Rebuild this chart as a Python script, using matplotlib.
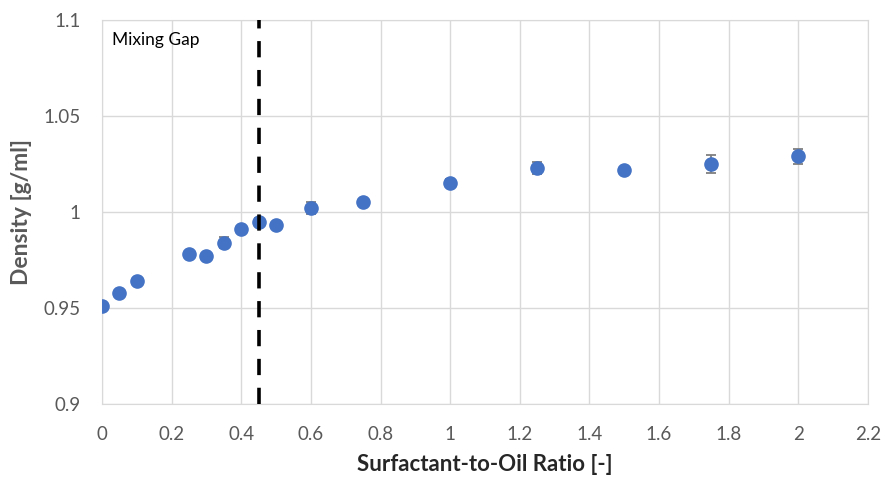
import numpy as np
import matplotlib.pyplot as plt
from matplotlib.ticker import FuncFormatter

plt.rcParams['font.family'] = ['Lato', 'DejaVu Sans']

# dados
ratio = [0, 0.05, 0.1, 0.25, 0.3, 0.35, 0.4, 0.45, 0.5, 0.6, 0.75, 1, 1.25, 1.5, 1.75, 2]
density = [0.951, 0.958, 0.964, 0.978, 0.977, 0.984, 0.991, 0.995, 0.993, 1.002,
           1.005, 1.015, 1.023, 1.022, 1.025, 1.029]
erro = [0.001, 0.001, 0.0015, 0.001, 0.001, 0.003, 0.001, 0.002, 0.001, 0.003,
        0.001, 0.002, 0.003, 0.001, 0.0045, 0.004]
gap = 0.45

grid_cor = '#d9d9d9'
texto_cor = '#595959'

fig = plt.figure(figsize=(8.82, 4.79), dpi=100)
ax = fig.add_axes([0.1156, 0.1566, 0.8685, 0.8017])

ax.errorbar(ratio, density, yerr=erro, fmt='o', color='#4472C4', markersize=9.5,
            ecolor='#7f7f7f', elinewidth=1.3, capsize=3.5, capthick=1.3, zorder=3)
ax.axvline(gap, color='black', lw=2.6, dashes=(4.5, 3.5), zorder=4)
ax.text(0.03, 1.0896, 'Mixing Gap', fontsize=12.5, color='black', ha='left', va='center')

ax.set_xlim(0, 2.2)
ax.set_ylim(0.9, 1.1)
ax.set_xticks(np.arange(0, 2.21, 0.2))
ax.set_yticks([0.9, 0.95, 1.0, 1.05, 1.1])
fmt = FuncFormatter(lambda v, p: '%g' % round(v, 3))
ax.xaxis.set_major_formatter(fmt)
ax.yaxis.set_major_formatter(fmt)
ax.tick_params(length=0, labelsize=13.5, colors=texto_cor)
ax.tick_params(axis='x', pad=16)
ax.tick_params(axis='y', pad=15.5)
ax.grid(True, color=grid_cor, lw=1)
ax.set_axisbelow(True)
for s in ax.spines.values():
    s.set_color(grid_cor)

ax.set_xlabel('Surfactant-to-Oil Ratio [-]', fontsize=16, fontweight='bold', color='#262626', labelpad=8)
ax.set_ylabel('Density [g/ml]', fontsize=16.5, fontweight='bold', color=texto_cor, labelpad=8)

fig.savefig('out.png', dpi=100)
